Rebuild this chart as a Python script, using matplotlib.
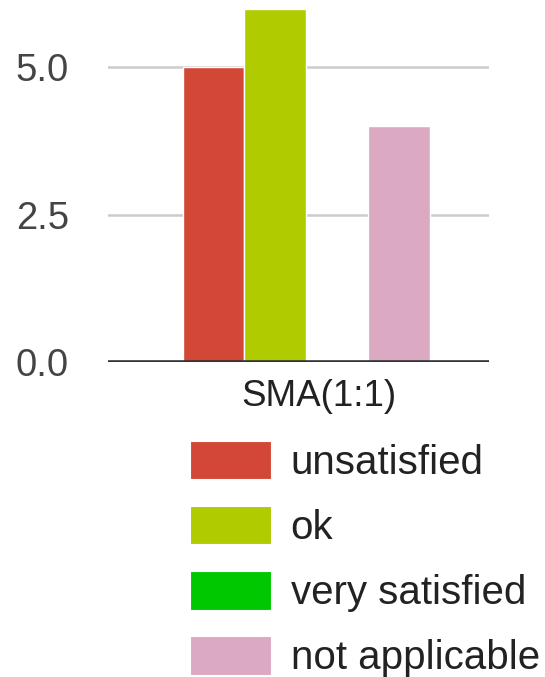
import matplotlib
matplotlib.use("Agg")
import matplotlib.pyplot as plt
from matplotlib.patches import Patch

plt.rcParams['font.family'] = ['Liberation Sans', 'DejaVu Sans']

categories = ["SMA(1:1)"]
series = ["unsatisfied", "ok", "very satisfied", "not applicable"]
values = {
    "unsatisfied": [5],
    "ok": [6],
    "very satisfied": [0],
    "not applicable": [4],
}
colors = ["#D34736", "#B0CC00", "#00C800", "#DBA9C1"]
yticks = [0.0, 2.5, 5.0]

fig = plt.figure(figsize=(5.45, 6.77), dpi=100)
ax = fig.add_axes([0.198, 0.4653, 0.70, 0.5347])

bar_w = 0.2
n = len(series)
for i, (name, col) in enumerate(zip(series, colors)):
    offset = (i - (n - 1) / 2) * bar_w - 0.04
    for j, cat in enumerate(categories):
        v = values[name][j]
        if v > 0:
            ax.bar(j + offset, v, width=bar_w, color=col,
                   edgecolor="white", linewidth=1.0, zorder=2)

ax.set_xlim(-0.681, 0.551)
ax.set_ylim(0, 6.146)
ax.set_xticks(range(len(categories)))
ax.set_xticklabels(categories, fontsize=26.5, color="#222222")
ax.set_yticks(yticks)
ax.set_yticklabels([f"{t:.1f}" for t in yticks], fontsize=27.5, color="#444444")
ax.tick_params(axis="both", length=0)
ax.tick_params(axis="y", pad=28)
ax.tick_params(axis="x", pad=12)

for s in ax.spines.values():
    s.set_visible(False)
for t in yticks[1:]:
    ax.axhline(t, color="#CCCCCC", linewidth=1.8, zorder=1)
ax.axhline(0, color="#333333", linewidth=2.6, zorder=3)

handles = [Patch(facecolor=c, edgecolor="white", linewidth=0.8) for c in colors]
fig.legend(handles, series, loc="upper left",
           bbox_to_anchor=(190 / 545, 1 - 441 / 677),
           frameon=False, fontsize=29, handlelength=2.0, handleheight=1.09,
           handletextpad=0.5, labelspacing=0.6, borderpad=0, borderaxespad=0,
           labelcolor="#222222")

fig.savefig("out.png", dpi=100)
